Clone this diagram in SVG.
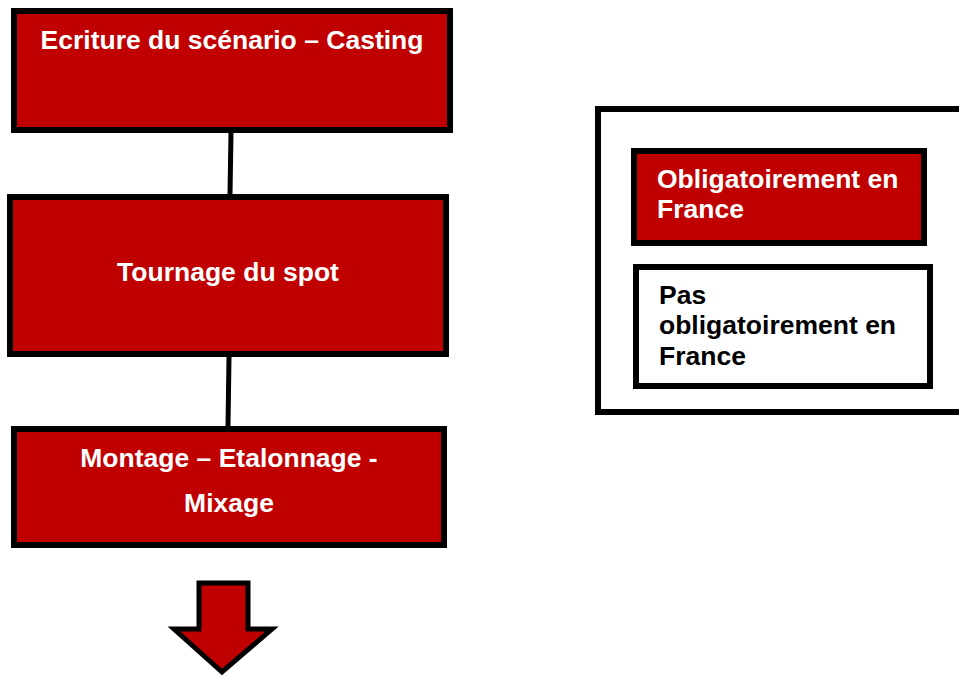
<svg xmlns="http://www.w3.org/2000/svg" width="959" height="677" viewBox="0 0 959 677">
<style>
.red{fill:#C00000;stroke:#000;stroke-width:6}
.white{fill:#fff;stroke:#000;stroke-width:6}
.t{font-family:"Liberation Sans",Arial,sans-serif;font-weight:bold;font-size:26.5px}
.tw{fill:#fff}
.tb{fill:#000}
.c{stroke:#000;stroke-width:5;fill:none}
</style>
<rect width="959" height="677" fill="#fff"/>
<g id="connectors">
<line class="c" x1="231" y1="133" x2="230" y2="194"/>
<line class="c" x1="229" y1="357" x2="228" y2="426"/>
</g>
<g id="n1">
<rect class="red" x="14" y="11" width="436" height="119"/>
<text class="t tw" x="232" y="49" text-anchor="middle">Ecriture du scénario – Casting</text>
</g>
<g id="n2">
<rect class="red" x="10" y="197" width="436" height="157"/>
<text class="t tw" x="228" y="281" text-anchor="middle">Tournage du spot</text>
</g>
<g id="n3">
<rect class="red" x="14" y="429" width="430" height="116"/>
<text class="t tw" x="229" y="467" text-anchor="middle">Montage – Etalonnage -</text>
<text class="t tw" x="229" y="512" text-anchor="middle">Mixage</text>
</g>
<g id="arrow">
<path d="M199,583 L248,583 L248,629 L272,629 L222,672 L174,629 L199,629 Z" fill="#C00000" stroke="#000" stroke-width="5" stroke-linejoin="miter"/>
</g>
<g id="legend">
<rect class="white" x="598" y="109" width="370" height="303"/>
<g id="legend-red">
<rect class="red" x="634" y="151" width="290" height="92"/>
<text class="t tw" x="657" y="188">Obligatoirement en</text>
<text class="t tw" x="657" y="218">France</text>
</g>
<g id="legend-white">
<rect class="white" x="636" y="267" width="294" height="119"/>
<text class="t tb" x="659" y="304">Pas</text>
<text class="t tb" x="659" y="334">obligatoirement en</text>
<text class="t tb" x="659" y="365">France</text>
</g>
</g>
</svg>
